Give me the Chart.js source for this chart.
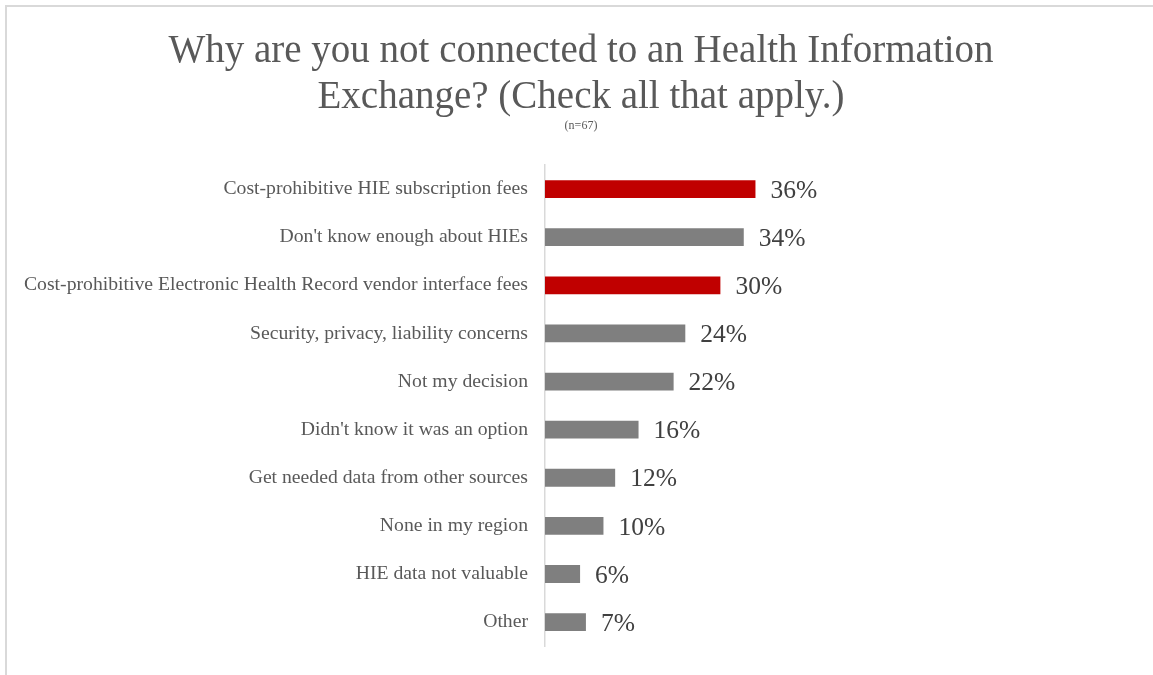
<!DOCTYPE html>
<html lang="en">
<head>
    <meta charset="UTF-8">
    <title>HIE Connection Barriers</title>
    <style>
        body {
            margin: 0;
            background-color: #fff;
            font-family: 'Liberation Serif', serif;
        }
        .frame {
            position: absolute;
            left: 5px;
            top: 5px;
            width: 1150px;
            height: 680px;
            border-top: 2px solid #d9d9d9;
            border-left: 2px solid #d9d9d9;
        }
        .chart-box {
            position: absolute;
            left: 0;
            top: 0;
            width: 1153px;
            height: 675px;
        }
    </style>
</head>
<body>
    <div class="frame"></div>
    <div class="chart-box">
        <canvas id="hieChart"></canvas>
    </div>
    <script src="https://cdn.jsdelivr.net/npm/chart.js"></script>
    <script>
        const reasons = [
            'Cost-prohibitive HIE subscription fees',
            "Don't know enough about HIEs",
            'Cost-prohibitive Electronic Health Record vendor interface fees',
            'Security, privacy, liability concerns',
            'Not my decision',
            "Didn't know it was an option",
            'Get needed data from other sources',
            'None in my region',
            'HIE data not valuable',
            'Other'
        ];
        const percentages = [36, 34, 30, 24, 22, 16, 12, 10, 6, 7];
        // cost-related reasons are highlighted in red
        const highlighted = [true, false, true, false, false, false, false, false, false, false];

        const RED = '#c00000';
        const GREY = '#7f7f7f';
        const SERIF = '"Liberation Serif", serif';

        // writes the percentage just past the end of each bar
        const barValueLabels = {
            id: 'barValueLabels',
            afterDatasetsDraw(chart) {
                const ctx = chart.ctx;
                const meta = chart.getDatasetMeta(0);
                ctx.save();
                ctx.font = '25.5px ' + SERIF;
                ctx.fillStyle = '#404040';
                ctx.textAlign = 'left';
                ctx.textBaseline = 'middle';
                meta.data.forEach((bar, i) => {
                    ctx.fillText(percentages[i] + '%', bar.x + 15, bar.y + 2);
                });
                ctx.restore();
            }
        };

        new Chart(document.getElementById('hieChart'), {
            type: 'bar',
            data: {
                labels: reasons,
                datasets: [{
                    data: percentages,
                    backgroundColor: highlighted.map(h => h ? RED : GREY),
                    borderWidth: 0,
                    categoryPercentage: 1,
                    barPercentage: 0.37
                }]
            },
            options: {
                indexAxis: 'y',
                responsive: true,
                maintainAspectRatio: false,
                animation: false,
                layout: {
                    // negative right padding nudges the title right of centre
                    padding: { left: 0, right: -9, top: 0, bottom: 27 }
                },
                plugins: {
                    legend: { display: false },
                    tooltip: { enabled: false },
                    title: {
                        display: true,
                        text: ['Why are you not connected to an Health Information', 'Exchange? (Check all that apply.)'],
                        color: '#595959',
                        font: { family: SERIF, size: 39, weight: 'normal', lineHeight: 1.2 },
                        padding: { top: 28, bottom: -3 }
                    },
                    subtitle: {
                        display: true,
                        text: '(n=67)',
                        color: '#595959',
                        font: { family: SERIF, size: 12 },
                        padding: { top: 0, bottom: 32 }
                    }
                },
                scales: {
                    x: {
                        display: false,
                        min: 0,
                        max: 104
                    },
                    y: {
                        // label column fixed so the bars start at the same spot
                        afterFit(scale) {
                            scale.width = 545;
                        },
                        grid: { display: false, drawTicks: false },
                        border: { display: true, color: '#d9d9d9', width: 1.5 },
                        ticks: {
                            color: '#595959',
                            padding: 17,
                            font: { family: SERIF, size: 19.7 }
                        }
                    }
                }
            },
            plugins: [barValueLabels]
        });
    </script>
</body>
</html>
